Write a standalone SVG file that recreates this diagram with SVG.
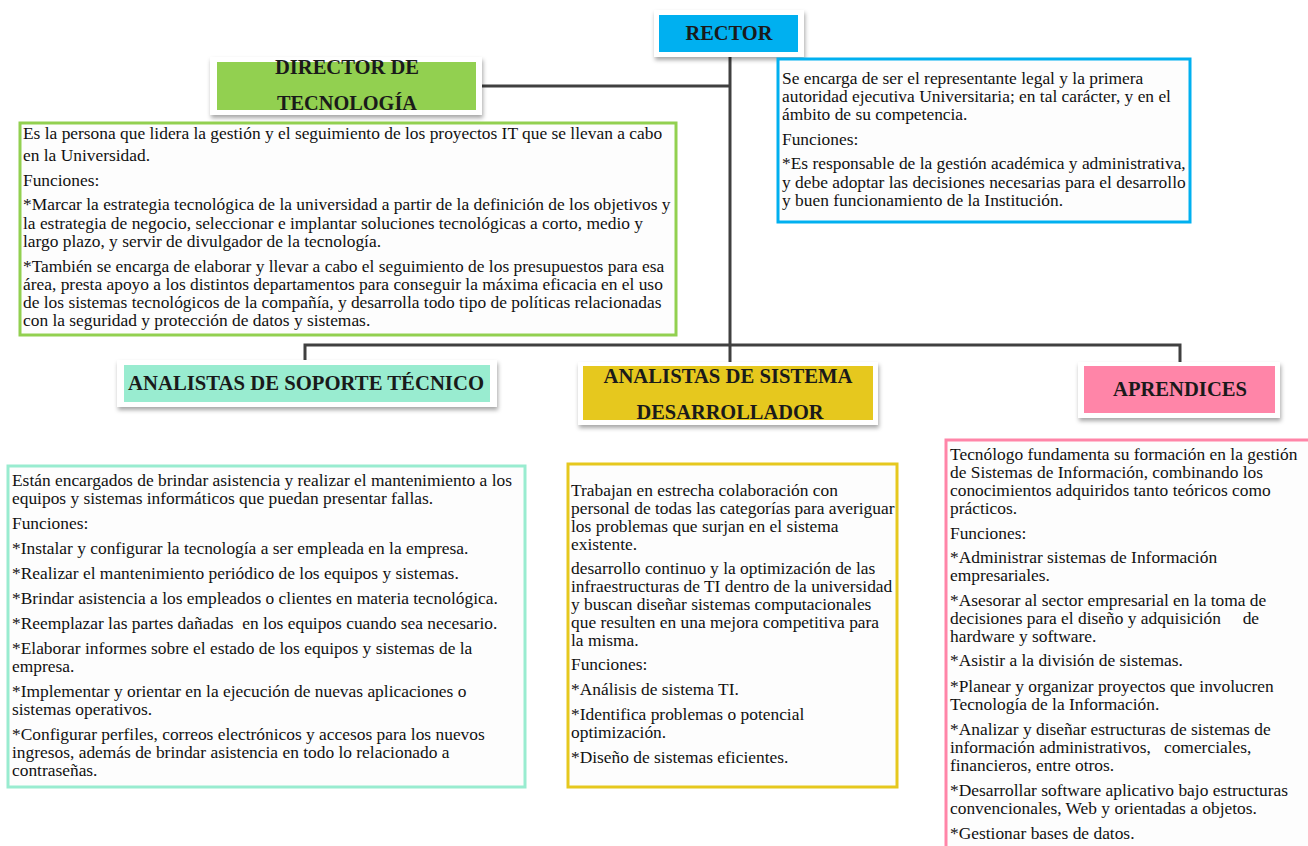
<svg xmlns="http://www.w3.org/2000/svg" width="1308" height="846" viewBox="0 0 1308 846">
<defs>
<filter id="sh" x="-10%" y="-20%" width="130%" height="160%">
<feDropShadow dx="1" dy="3" stdDeviation="2" flood-color="#000" flood-opacity="0.35"/>
</filter>
</defs>
<style>
.orgcard{fill:#ffffff;filter:url(#sh)}
.orghead{font-weight:bold;font-size:21px;fill:#1a1a1a;text-anchor:middle}
.orgbody{font-size:17.4px;fill:#111}
.orgbox{fill:#fdfdfd;stroke-width:3}
.orgline{stroke:#404040;stroke-width:3;fill:none}
</style>
<rect width="1308" height="846" fill="#ffffff"/>
<g id="connectors">
<path class="orgline" d="M730 57 V365"/>
<path class="orgline" d="M480 86 H730"/>
<path class="orgline" d="M305 360 V345 H1180 V362"/>
</g>
<g id="rector">
<rect class="orgcard" x="654" y="10" width="150" height="47"/>
<rect x="659" y="15" width="139" height="37" fill="#00b0f0"/>
<text class="orghead" style="font-family:'Liberation Serif',serif" x="729" y="40" textLength="87" lengthAdjust="spacingAndGlyphs">RECTOR</text>
</g>
<g id="rector-desc">
<rect class="orgbox" x="778" y="59" width="412" height="163" stroke="#00b0f0"/>
<text class="orgbody" style="font-family:'Liberation Serif',serif"><tspan x="782" y="84">Se encarga de ser el representante legal y la primera</tspan><tspan x="782" y="102">autoridad ejecutiva Universitaria; en tal carácter, y en el</tspan><tspan x="782" y="120">ámbito de su competencia.</tspan><tspan x="782" y="145">Funciones:</tspan><tspan x="782" y="169">*Es responsable de la gestión académica y administrativa,</tspan><tspan x="782" y="188">y debe adoptar las decisiones necesarias para el desarrollo</tspan><tspan x="782" y="206">y buen funcionamiento de la Institución.</tspan></text>
</g>
<g id="director">
<rect class="orgcard" x="210" y="57" width="272" height="58"/>
<rect x="217" y="62" width="259" height="48" fill="#92d050"/>
<text class="orghead" style="font-family:'Liberation Serif',serif" x="347" y="74" textLength="144" lengthAdjust="spacingAndGlyphs">DIRECTOR DE</text>
<text class="orghead" style="font-family:'Liberation Serif',serif" x="347" y="110" textLength="140" lengthAdjust="spacingAndGlyphs">TECNOLOGÍA</text>
</g>
<g id="director-desc">
<rect class="orgbox" x="20" y="123" width="656" height="212" stroke="#92d050"/>
<text class="orgbody" style="font-family:'Liberation Serif',serif"><tspan x="23" y="139">Es la persona que lidera la gestión y el seguimiento de los proyectos IT que se llevan a cabo</tspan><tspan x="23" y="161">en la Universidad.</tspan><tspan x="23" y="186">Funciones:</tspan><tspan x="23" y="210">*Marcar la estrategia tecnológica de la universidad a partir de la definición de los objetivos y</tspan><tspan x="23" y="229">la estrategia de negocio, seleccionar e implantar soluciones tecnológicas a corto, medio y</tspan><tspan x="23" y="247">largo plazo, y servir de divulgador de la tecnología.</tspan><tspan x="23" y="272">*También se encarga de elaborar y llevar a cabo el seguimiento de los presupuestos para esa</tspan><tspan x="23" y="290">área, presta apoyo a los distintos departamentos para conseguir la máxima eficacia en el uso</tspan><tspan x="23" y="308">de los sistemas tecnológicos de la compañía, y desarrolla todo tipo de políticas relacionadas</tspan><tspan x="23" y="326">con la seguridad y protección de datos y sistemas.</tspan></text>
</g>
<g id="soporte">
<rect class="orgcard" x="117" y="360" width="380" height="47"/>
<rect x="124" y="365" width="366" height="37" fill="#99ecd0"/>
<text class="orghead" style="font-family:'Liberation Serif',serif" x="306" y="390" textLength="356" lengthAdjust="spacingAndGlyphs">ANALISTAS DE SOPORTE TÉCNICO</text>
</g>
<g id="soporte-desc">
<rect class="orgbox" x="8" y="466" width="517" height="321" stroke="#99ecd0"/>
<text class="orgbody" style="font-family:'Liberation Serif',serif" xml:space="preserve"><tspan x="12" y="486">Están encargados de brindar asistencia y realizar el mantenimiento a los</tspan><tspan x="12" y="504">equipos y sistemas informáticos que puedan presentar fallas.</tspan><tspan x="12" y="529">Funciones:</tspan><tspan x="12" y="554">*Instalar y configurar la tecnología a ser empleada en la empresa.</tspan><tspan x="12" y="579">*Realizar el mantenimiento periódico de los equipos y sistemas.</tspan><tspan x="12" y="604">*Brindar asistencia a los empleados o clientes en materia tecnológica.</tspan><tspan x="12" y="629">*Reemplazar las partes dañadas  en los equipos cuando sea necesario.</tspan><tspan x="12" y="654">*Elaborar informes sobre el estado de los equipos y sistemas de la</tspan><tspan x="12" y="672">empresa.</tspan><tspan x="12" y="697">*Implementar y orientar en la ejecución de nuevas aplicaciones o</tspan><tspan x="12" y="715">sistemas operativos.</tspan><tspan x="12" y="740">*Configurar perfiles, correos electrónicos y accesos para los nuevos</tspan><tspan x="12" y="758">ingresos, además de brindar asistencia en todo lo relacionado a</tspan><tspan x="12" y="776">contraseñas.</tspan></text>
</g>
<g id="sistema">
<rect class="orgcard" x="578" y="362" width="300" height="63"/>
<rect x="583" y="366" width="290" height="54" fill="#e6c81e"/>
<text class="orghead" style="font-family:'Liberation Serif',serif" x="728" y="383" textLength="249" lengthAdjust="spacingAndGlyphs">ANALISTAS DE SISTEMA</text>
<text class="orghead" style="font-family:'Liberation Serif',serif" x="730" y="419" textLength="187" lengthAdjust="spacingAndGlyphs">DESARROLLADOR</text>
</g>
<g id="sistema-desc">
<rect class="orgbox" x="568" y="464" width="329" height="323" stroke="#e6c81e"/>
<text class="orgbody" style="font-family:'Liberation Serif',serif"><tspan x="571" y="496">Trabajan en estrecha colaboración con</tspan><tspan x="571" y="514">personal de todas las categorías para averiguar</tspan><tspan x="571" y="532">los problemas que surjan en el sistema</tspan><tspan x="571" y="550">existente.</tspan><tspan x="571" y="574">desarrollo continuo y la optimización de las</tspan><tspan x="571" y="592">infraestructuras de TI dentro de la universidad</tspan><tspan x="571" y="610">y buscan diseñar sistemas computacionales</tspan><tspan x="571" y="628">que resulten en una mejora competitiva para</tspan><tspan x="571" y="646">la misma.</tspan><tspan x="571" y="670">Funciones:</tspan><tspan x="571" y="695">*Análisis de sistema TI.</tspan><tspan x="571" y="720">*Identifica problemas o potencial</tspan><tspan x="571" y="738">optimización.</tspan><tspan x="571" y="763">*Diseño de sistemas eficientes.</tspan></text>
</g>
<g id="aprendices">
<rect class="orgcard" x="1078" y="362" width="202" height="56"/>
<rect x="1084" y="366" width="191" height="47" fill="#ff85a8"/>
<text class="orghead" style="font-family:'Liberation Serif',serif" x="1180" y="396" textLength="134" lengthAdjust="spacingAndGlyphs">APRENDICES</text>
</g>
<g id="aprendices-desc">
<rect class="orgbox" x="946" y="440" width="370" height="420" stroke="#ff85a8"/>
<text class="orgbody" style="font-family:'Liberation Serif',serif" xml:space="preserve"><tspan x="950" y="460">Tecnólogo fundamenta su formación en la gestión</tspan><tspan x="950" y="478">de Sistemas de Información, combinando los</tspan><tspan x="950" y="496">conocimientos adquiridos tanto teóricos como</tspan><tspan x="950" y="514">prácticos.</tspan><tspan x="950" y="539">Funciones:</tspan><tspan x="950" y="563">*Administrar sistemas de Información</tspan><tspan x="950" y="581">empresariales.</tspan><tspan x="950" y="606">*Asesorar al sector empresarial en la toma de</tspan><tspan x="950" y="624">decisiones para el diseño y adquisición     de</tspan><tspan x="950" y="642">hardware y software.</tspan><tspan x="950" y="666">*Asistir a la división de sistemas.</tspan><tspan x="950" y="692">*Planear y organizar proyectos que involucren</tspan><tspan x="950" y="710">Tecnología de la Información.</tspan><tspan x="950" y="735">*Analizar y diseñar estructuras de sistemas de</tspan><tspan x="950" y="753">información administrativos,   comerciales,</tspan><tspan x="950" y="771">financieros, entre otros.</tspan><tspan x="950" y="796">*Desarrollar software aplicativo bajo estructuras</tspan><tspan x="950" y="814">convencionales, Web y orientadas a objetos.</tspan><tspan x="950" y="839">*Gestionar bases de datos.</tspan></text>
</g>
</svg>
